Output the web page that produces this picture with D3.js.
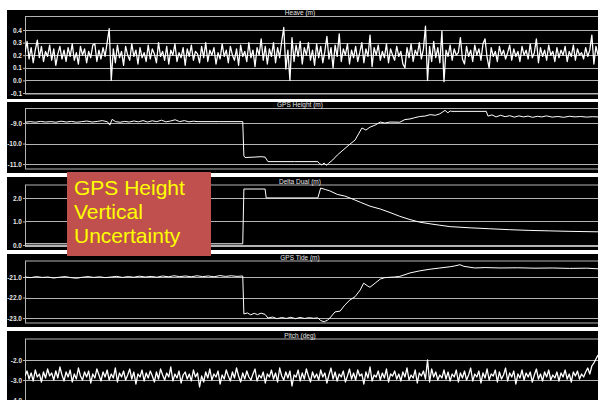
<!DOCTYPE html>
<html>
<head>
<meta charset="utf-8">
<script src="https://cdn.jsdelivr.net/npm/d3@7"></script>
<style>
  body { margin: 0; background: #fff; }
  svg { display: block; }
  .tick text { fill: #e6e6e6; font: bold 6.5px "Liberation Sans", Arial, sans-serif; }
  .tick line { stroke: #b4b4b4; }
  .domain { display: none; }
  .grid { stroke: #b4b4b4; stroke-width: 1; }
  .frame { fill: none; stroke: #b4b4b4; stroke-width: 1; }
  .title { fill: #e6e6e6; font: 6.5px "Liberation Sans", Arial, sans-serif; text-anchor: middle; }
  .trace { fill: none; stroke: #fff; stroke-width: 1; stroke-linejoin: round; }
  .trace.noisy { stroke-width: 1.3; }
</style>
</head>
<body>
<div id="chart"></div>
<script>
//heave samples (m), evenly spaced over the whole record
var heave = [
  0.22, 0.31, 0.17, 0.26, 0.14, 0.24, 0.32, 0.18, 0.27, 0.15, 0.23, 0.19, 0.28, 0.16, 0.25, 0.12, 0.21, 0.27, 0.17, 0.24,
  0.15, 0.26, 0.19, 0.29, 0.16, 0.22, 0.13, 0.27, 0.2, 0.25, 0.14, 0.23, 0.18, 0.28, 0.29, 0.15, 0.24, 0.17, 0.26, 0.19,
  0.3, 0.41, 0.0, 0.25, 0.14, 0.28, 0.18, 0.23, 0.12, 0.27, 0.2, 0.16, 0.29, 0.19, 0.24, 0.13, 0.26, 0.18, 0.22, 0.15,
  0.28, 0.17, 0.25, 0.21, 0.14, 0.3, 0.19, 0.23, 0.16, 0.27, 0.13, 0.24, 0.2, 0.29, 0.15, 0.22, 0.18, 0.26, 0.12, 0.25,
  0.19, 0.28, 0.16, 0.23, 0.21, 0.14, 0.27, 0.18, 0.3, 0.15, 0.24, 0.2, 0.26, 0.13, 0.22, 0.17, 0.29, 0.19, 0.24, 0.14,
  0.27, 0.2, 0.16, 0.25, 0.12, 0.28, 0.19, 0.23, 0.15, 0.3, 0.18, 0.24, 0.11, 0.26, 0.2, 0.33, 0.16, 0.27, 0.13, 0.25,
  0.19, 0.3, 0.14, 0.26, 0.18, 0.31, 0.42, 0.09, 0.24, 0.0, 0.34, 0.15, 0.28, 0.19, 0.31, 0.13, 0.26, 0.2, 0.3, 0.16,
  0.24, 0.12, 0.29, 0.18, 0.27, 0.14, 0.23, 0.35, 0.17, 0.26, 0.1, 0.28, 0.19, 0.37, 0.15, 0.25, 0.2, 0.29, 0.13, 0.24,
  0.18, 0.27, 0.15, 0.22, 0.3, 0.14, 0.25, 0.19, 0.36, 0.11, 0.26, 0.2, 0.28, 0.16, 0.23, 0.18, 0.29, 0.14, 0.25, 0.2,
  0.16, 0.27, 0.19, 0.23, 0.13, 0.1, 0.26, 0.18, 0.29, 0.15, 0.24, 0.2, 0.3, 0.17, 0.25, 0.43, 0.0, 0.27, 0.15, 0.31,
  0.18, 0.26, 0.14, 0.39, -0.01, 0.24, 0.19, 0.28, 0.16, 0.25, 0.2, 0.22, 0.34, 0.17, 0.13, 0.27, 0.19, 0.24, 0.15, 0.28,
  0.2, 0.25, 0.16, 0.29, 0.33, 0.18, 0.1, 0.26, 0.19, 0.23, 0.15, 0.27, 0.2, 0.24, 0.17, 0.22, 0.28, 0.16, 0.25, 0.19,
  0.23, 0.15, 0.27, 0.2, 0.24, 0.17, 0.29, 0.18, 0.22, 0.33, 0.14, 0.26, 0.19, 0.24, 0.16, 0.28, 0.2, 0.23, 0.15, 0.26,
  0.18, 0.24, 0.2, 0.27, 0.15, 0.23, 0.19, 0.28, 0.16, 0.25, 0.2, 0.22, 0.17, 0.26, 0.19, 0.24, 0.36, 0.13, 0.27, 0.2
];

//pitch samples (deg), evenly spaced over the whole record
var pitch = [
  -2.8, -2.55, -2.95, -2.65, -3.05, -2.5, -2.85, -2.7, -3.1, -2.6, -2.9, -2.45, -2.8, -2.65, -3.0, -2.55, -2.9, -2.35, -2.75, -3.05,
  -2.6, -2.85, -2.5, -3.1, -2.7, -2.95, -2.4, -2.8, -3.0, -2.6, -2.85, -2.55, -3.15, -2.7, -2.9, -2.45, -2.75, -3.05, -2.6, -2.85,
  -2.5, -3.0, -2.7, -2.9, -2.4, -3.1, -2.65, -2.85, -2.55, -3.0, -2.75, -2.45, -2.95, -2.6, -3.2, -2.7, -2.85, -2.5, -3.05, -2.65,
  -2.9, -2.55, -2.8, -3.1, -2.6, -2.95, -2.45, -2.75, -3.0, -2.65, -2.85, -2.35, -3.05, -2.7, -2.9, -2.55, -3.15, -2.75, -2.6, -2.95,
  -2.7, -3.05, -2.5, -2.85, -2.65, -3.35, -2.8, -3.1, -2.6, -2.9, -2.45, -3.0, -2.7, -2.85, -2.55, -3.2, -2.75, -2.95, -2.5, -2.8,
  -3.05, -2.6, -2.9, -2.4, -2.8, -3.1, -2.65, -2.95, -2.55, -2.85, -3.0, -2.7, -2.45, -3.05, -2.75, -2.9, -2.6, -3.15, -2.7, -2.85,
  -2.5, -2.95, -2.65, -3.1, -2.4, -2.8, -3.0, -2.6, -2.9, -2.55, -3.3, -2.75, -2.85, -2.5, -3.05, -2.65, -2.95, -2.45, -2.8, -3.1,
  -2.6, -2.9, -2.7, -3.0, -2.5, -2.85, -2.65, -3.15, -2.75, -2.4, -2.95, -2.6, -3.05, -2.7, -2.85, -2.55, -3.1, -2.8, -2.45, -2.95,
  -2.65, -3.0, -2.5, -2.8, -2.7, -3.2, -2.6, -2.9, -2.35, -3.05, -2.75, -2.85, -2.55, -3.0, -2.65, -2.9, -2.45, -3.1, -2.7, -2.8,
  -2.55, -2.95, -2.7, -3.05, -2.6, -2.85, -2.4, -3.0, -2.75, -2.9, -2.5, -3.15, -2.65, -2.8, -2.55, -2.95, -2.0, -3.1, -2.45, -2.85,
  -2.6, -3.0, -2.75, -2.9, -2.5, -2.95, -2.6, -3.05, -2.7, -2.85, -2.5, -3.1, -2.65, -2.9, -2.55, -3.0, -2.75, -2.4, -3.05, -2.7,
  -2.85, -2.55, -3.15, -2.65, -2.9, -2.45, -3.0, -2.7, -2.8, -2.5, -3.1, -2.6, -2.95, -2.75, -2.4, -3.05, -2.65, -2.85, -2.55, -3.2,
  -2.7, -2.9, -2.5, -3.0, -2.65, -2.85, -2.6, -3.1, -2.75, -2.45, -2.95, -2.7, -3.05, -2.6, -2.85, -2.5, -3.0, -2.75, -2.9, -2.6,
  -3.05, -2.65, -2.85, -2.5, -2.95, -2.7, -3.1, -2.6, -2.8, -2.55, -2.95, -2.7, -2.85, -2.6, -2.4, -2.7, -2.3, -2.15, -1.95, -1.75
];

//GPS height (m): [time, value]
var gpsHeight = [
  [0, -8.96], [9, -8.93], [18, -8.96], [27, -8.92], [36, -8.95], [45, -8.93],
  [54, -8.96], [63, -8.91], [72, -8.95], [81, -8.92], [90, -8.96], [99, -8.93],
  [108, -8.9], [117, -8.95], [126, -8.92], [135, -8.88], [144, -8.94], [148, -9.1],
  [152, -8.82], [158, -8.93], [166, -8.96], [174, -8.92], [182, -8.95], [190, -8.9],
  [198, -8.94], [206, -8.88], [214, -8.95], [222, -8.89], [230, -8.93], [238, -8.86],
  [246, -8.94], [254, -8.9], [262, -8.84], [270, -8.93], [278, -8.88], [286, -8.94],
  [294, -8.91], [302, -8.93], [340, -8.93], [380, -8.93],
  [382, -10.6], [384, -10.68], [400, -10.66], [412, -10.64], [419, -10.66],
  [424, -10.88], [470, -10.88], [511, -10.88], [514, -10.98], [518, -11.04],
  [522, -10.95], [526, -11.06], [530, -10.96], [537, -10.8], [545, -10.56],
  [555, -10.32], [567, -10.03], [576, -9.83], [588, -9.24], [595, -9.34],
  [602, -9.2], [611, -9.1], [620, -8.95], [628, -9.0], [637, -8.95], [654, -8.96],
  [663, -8.83], [672, -8.8], [680, -8.74], [689, -8.68], [698, -8.66], [707, -8.59],
  [716, -8.62], [724, -8.55], [733, -8.38], [738, -8.5], [742, -8.41], [745, -8.43],
  [805, -8.43], [808, -8.66], [815, -8.6], [822, -8.7], [830, -8.62], [838, -8.69],
  [846, -8.64], [854, -8.71], [862, -8.65], [870, -8.7], [878, -8.66], [886, -8.72],
  [894, -8.67], [902, -8.7], [910, -8.65], [920, -8.71], [930, -8.68], [940, -8.72],
  [950, -8.67], [960, -8.7], [970, -8.68], [980, -8.71], [990, -8.69], [1000, -8.7]
];

//delta dual (m): [time, value]
var deltaDual = [
  [0, 0.05], [380, 0.05], [382, 2.38], [419, 2.38], [421, 2.0], [511, 2.0],
  [516, 2.42], [524, 2.36], [532, 2.3], [545, 2.15], [558, 2.08], [567, 2.0],
  [585, 1.82], [602, 1.65], [620, 1.53], [637, 1.38], [654, 1.22], [672, 1.08],
  [689, 0.97], [707, 0.9], [724, 0.84], [742, 0.78], [777, 0.73], [811, 0.69],
  [846, 0.65], [881, 0.62], [916, 0.6], [951, 0.58], [1000, 0.56]
];

//GPS tide (m): [time, value]
var gpsTide = [
  [0, -21.0], [10, -21.03], [20, -20.98], [30, -21.02], [40, -21.0], [50, -21.05],
  [60, -21.01], [70, -20.98], [80, -21.03], [90, -21.06], [100, -21.01], [110, -20.98],
  [120, -21.02], [130, -20.99], [140, -21.03], [150, -21.0], [160, -20.97], [170, -21.02],
  [180, -20.98], [190, -21.01], [200, -20.96], [210, -21.0], [220, -20.97], [230, -21.01],
  [240, -20.95], [250, -20.99], [260, -20.94], [270, -20.98], [280, -20.95], [290, -20.99],
  [300, -20.94], [310, -20.98], [320, -20.95], [330, -20.99], [340, -20.93], [350, -20.97],
  [360, -20.94], [370, -20.97], [380, -20.95],
  [382, -22.8], [388, -22.75], [394, -22.84], [400, -22.77], [406, -22.83], [412, -22.76],
  [419, -22.82], [424, -23.0], [432, -22.95], [440, -23.03], [448, -22.97], [456, -23.02],
  [464, -22.96], [472, -23.03], [480, -22.97], [488, -23.02], [496, -22.98], [504, -23.01],
  [511, -22.99], [516, -23.12], [522, -23.18], [528, -23.1], [532, -23.0], [541, -22.7],
  [550, -22.66], [558, -22.37], [567, -22.12], [576, -21.96], [585, -21.63], [591, -21.3],
  [597, -21.42], [602, -21.5], [611, -21.3], [620, -21.1], [628, -21.03], [645, -21.0],
  [654, -20.97], [672, -20.8], [689, -20.7], [707, -20.62], [724, -20.56], [742, -20.5],
  [750, -20.46], [759, -20.4], [766, -20.48], [785, -20.56], [803, -20.54], [829, -20.56],
  [860, -20.55], [890, -20.57], [920, -20.56], [950, -20.58], [980, -20.57], [1000, -20.6]
];

//tick labels per panel
var heaveTicks = [0.4, 0.3, 0.2, 0.1, 0.0, -0.1];
var heightTicks = [-9, -10, -11];
var deltaTicks = [2, 1, 0];
var tideTicks = [-21, -22, -23];
var pitchTicks = [-2, -3, -4];

//turn evenly spaced samples into [time, value] pairs
function spread(values) {
  return values.map(function(v, i) {
    return [(i * 1000) / (values.length - 1), v];
  });
}

//panel layout: black box, plot frame and value range
var panels = [
  { title: "Heave (m)", data: spread(heave), ticks: heaveTicks, noisy: true,
    bg: [10, 99], frame: [16.5, 94], domain: [-0.1, 0.5], range: [93, 17.4] },
  { title: "GPS Height (m)", data: gpsHeight, ticks: heightTicks,
    bg: [102, 173], frame: [108.5, 169], domain: [-11.24, -8.29], range: [169, 108.5] },
  { title: "Delta Dual (m)", data: deltaDual, ticks: deltaTicks,
    bg: [177, 250], frame: [185, 246.5], domain: [-0.064, 2.55], range: [246.5, 185] },
  { title: "GPS Tide (m)", data: gpsTide, ticks: tideTicks,
    bg: [254, 327], frame: [261, 323], domain: [-23.24, -20.22], range: [323, 261] },
  { title: "Pitch (deg)", data: spread(pitch), ticks: pitchTicks, noisy: true,
    bg: [331, 405], frame: [339, 402], domain: [-4.1, -0.95], range: [402, 339] }
];

var width = 598,
  height = 400;

var svg = d3
  .select("#chart")
  .append("svg")
  .attr("width", width)
  .attr("height", height);

//time runs along the full width of every panel
var x = d3.scaleLinear().domain([0, 1000]).range([25, 598]);

panels.forEach(function(p, k) {
  var y = d3.scaleLinear().domain(p.domain).range(p.range);
  var g = svg.append("g");

  g.append("rect")
    .attr("x", 7)
    .attr("y", p.bg[0])
    .attr("width", width - 7)
    .attr("height", p.bg[1] - p.bg[0])
    .attr("fill", "#000");

  g.append("clipPath")
    .attr("id", "clip" + k)
    .append("rect")
    .attr("x", 25)
    .attr("y", p.frame[0])
    .attr("width", width - 25)
    .attr("height", p.frame[1] - p.frame[0]);

  //gridlines
  g.selectAll(".grid")
    .data(p.ticks)
    .enter()
    .append("line")
    .attr("class", "grid")
    .attr("x1", 25)
    .attr("x2", width)
    .attr("y1", function(d) { return Math.round(y(d)) + 0.5; })
    .attr("y2", function(d) { return Math.round(y(d)) + 0.5; });

  g.append("rect")
    .attr("class", "frame")
    .attr("x", 25.5)
    .attr("y", p.frame[0])
    .attr("width", width + 10)
    .attr("height", p.frame[1] - p.frame[0]);

  g.append("g")
    .attr("transform", "translate(25,0)")
    .call(
      d3.axisLeft(y)
        .tickValues(p.ticks)
        .tickSize(2)
        .tickPadding(1)
        .tickFormat(function(d) { return d.toFixed(1); })
    );

  g.append("text")
    .attr("class", "title")
    .attr("x", 300)
    .attr("y", p.frame[0] - 1.5)
    .text(p.title);

  var line = d3
    .line()
    .x(function(d) { return x(d[0]); })
    .y(function(d) { return y(d[1]); });

  g.append("path")
    .datum(p.data)
    .attr("class", p.noisy ? "trace noisy" : "trace")
    .attr("clip-path", "url(#clip" + k + ")")
    .attr("d", line);
});

//annotation box over the delta dual panel
var note = svg.append("g");
note.append("rect")
  .attr("x", 67)
  .attr("y", 172)
  .attr("width", 144)
  .attr("height", 84)
  .attr("fill", "#c0504d");

["GPS Height", "Vertical", "Uncertainty"].forEach(function(t, i) {
  note.append("text")
    .attr("x", 74)
    .attr("y", 195 + i * 24)
    .attr("fill", "#ffff00")
    .style("font", '21px "Liberation Sans", Arial, sans-serif')
    .text(t);
});
</script>
</body>
</html>
